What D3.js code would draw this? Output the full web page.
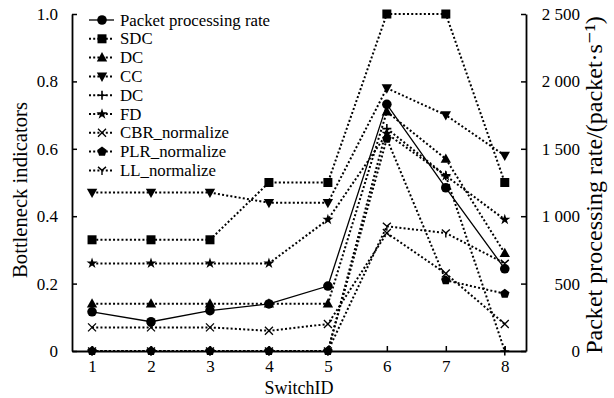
<!DOCTYPE html>
<html><head><meta charset="utf-8">
<script src="https://cdn.jsdelivr.net/npm/d3@7"></script>
<style>
body{margin:0;background:#fff;}
svg{display:block;font-family:"Liberation Serif","DejaVu Serif",serif;}
</style></head>
<body>
<svg id="chart" width="614" height="398"></svg>
<script>
// ---- data ----
const switchIDs = [1, 2, 3, 4, 5, 6, 7, 8];
const packetRate = [291, 217, 299, 349, 482, 1830, 1211, 610];
const sdc = [0.33, 0.33, 0.33, 0.50, 0.50, 1.00, 1.00, 0.50];
const dc = [0.14, 0.14, 0.14, 0.14, 0.14, 0.71, 0.57, 0.29];
const cc = [0.47, 0.47, 0.47, 0.44, 0.44, 0.78, 0.70, 0.58];
const dc2 = [0, 0, 0, 0, 0, 0.66, 0.52, 0];
const fd = [0.26, 0.26, 0.26, 0.26, 0.39, 0.645, 0.52, 0.39];
const cbr = [0.07, 0.07, 0.07, 0.06, 0.08, 0.35, 0.23, 0.08];
const plr = [0, 0, 0, 0, 0, 0.63, 0.21, 0.17];
const ll = [0, 0, 0, 0, 0, 0.37, 0.35, 0.26];
const leftTicks = [0, 0.2, 0.4, 0.6, 0.8, 1.0];
const rightTicks = [0, 500, 1000, 1500, 2000, 2500];
const leftTitle = "Bottleneck indicators";
const bottomTitle = "SwitchID";
const rightTitle = "Packet processing rate/(packet·s⁻¹)";

const seriesList = [
  {name: "Packet processing rate", values: packetRate, axis: "right", marker: "circle", solid: true},
  {name: "SDC", values: sdc, axis: "left", marker: "square"},
  {name: "DC", values: dc, axis: "left", marker: "triUp"},
  {name: "CC", values: cc, axis: "left", marker: "triDown"},
  {name: "DC", values: dc2, axis: "left", marker: "plus"},
  {name: "FD", values: fd, axis: "left", marker: "star"},
  {name: "CBR_normalize", values: cbr, axis: "left", marker: "x"},
  {name: "PLR_normalize", values: plr, axis: "left", marker: "pentagon"},
  {name: "LL_normalize", values: ll, axis: "left", marker: "wye"}
];

// ---- layout ----
const L = 72, R = 526, T = 14, B = 351;
const svg = d3.select("#chart");
const x = d3.scaleLinear().domain([0.66, 8.36]).range([L, R]);
const yL = d3.scaleLinear().domain([0, 1]).range([B, T]);
const yR = d3.scaleLinear().domain([0, 2500]).range([B, T]);

function fmtRight(d){
  const s = String(d);
  return s.length > 3 ? s.slice(0, s.length - 3) + " " + s.slice(-3) : s;
}
function fitSize(sel, target, base, maxSize){
  sel.attr("font-size", base);
  const w = sel.node().getComputedTextLength();
  let size = base * target / w;
  if (maxSize) size = Math.min(size, maxSize);
  sel.attr("font-size", size);
  return size;
}

const tickFs = 17;

// axes
const gL = svg.append("g").attr("transform", `translate(${L},0)`)
  .call(d3.axisLeft(yL).tickValues(leftTicks).tickSize(-5).tickSizeOuter(0).tickPadding(14)
    .tickFormat(d => d === 0 ? "0" : d3.format(".1f")(d)));
const gR = svg.append("g").attr("transform", `translate(${R},0)`)
  .call(d3.axisRight(yR).tickValues(rightTicks).tickSize(-5).tickSizeOuter(0).tickPadding(54)
    .tickFormat(fmtRight));
gR.selectAll(".tick text").attr("text-anchor", "end");
const gB = svg.append("g").attr("transform", `translate(0,${B})`)
  .call(d3.axisBottom(x).tickValues(switchIDs).tickSize(-5).tickSizeOuter(0).tickPadding(9)
    .tickFormat(d3.format("d")));
[gL, gR, gB].forEach(g => {
  g.attr("font-family", null).attr("font-size", null);
  g.selectAll("text").attr("font-size", tickFs).attr("fill", "#000");
  g.selectAll("line").attr("stroke", "#000").attr("stroke-width", 1.5);
  g.select(".domain").attr("stroke", "#000").attr("stroke-width", 1.8);
});

// axis titles
const tl = svg.append("text").attr("transform", `translate(27,190) rotate(-90)`)
  .attr("text-anchor", "middle").text(leftTitle);
fitSize(tl, 176, 18);
const tb = svg.append("text").attr("x", 299).attr("y", 394)
  .attr("text-anchor", "middle").attr("font-size", 18).text(bottomTitle);
const tr = svg.append("text").attr("transform", `translate(602,185) rotate(-90)`)
  .attr("text-anchor", "middle").text(rightTitle);
fitSize(tr, 338, 18);

// markers
function drawMarker(g, type, cx, cy){
  const k = "#000";
  if (type === "circle") g.append("circle").attr("cx", cx).attr("cy", cy).attr("r", 4.8).attr("fill", k);
  else if (type === "square") g.append("rect").attr("x", cx-4.5).attr("y", cy-4.5).attr("width", 9).attr("height", 9).attr("fill", k);
  else if (type === "triUp") g.append("path").attr("d", `M${cx},${cy-5.5}L${cx+5.2},${cy+3.8}L${cx-5.2},${cy+3.8}Z`).attr("fill", k);
  else if (type === "triDown") g.append("path").attr("d", `M${cx},${cy+5.5}L${cx+5.2},${cy-3.8}L${cx-5.2},${cy-3.8}Z`).attr("fill", k);
  else if (type === "plus") g.append("path").attr("d", `M${cx-4.5},${cy}H${cx+4.5}M${cx},${cy-4.5}V${cy+4.5}`).attr("stroke", k).attr("stroke-width", 1.6).attr("fill", "none");
  else if (type === "x") g.append("path").attr("d", `M${cx-4},${cy-4}L${cx+4},${cy+4}M${cx-4},${cy+4}L${cx+4},${cy-4}`).attr("stroke", k).attr("stroke-width", 1.3).attr("fill", "none");
  else if (type === "star") g.append("path").attr("d", d3.symbol(d3.symbolStar, 38)()).attr("transform", `translate(${cx},${cy})`).attr("fill", k);
  else if (type === "pentagon") {
    const pts = d3.range(5).map(i => { const a = -Math.PI/2 + i*2*Math.PI/5; return [cx + 5*Math.cos(a), cy + 5*Math.sin(a)]; });
    g.append("path").attr("d", "M" + pts.join("L") + "Z").attr("fill", k);
  }
  else if (type === "wye") g.append("path").attr("d", `M${cx},${cy+4.5}V${cy}M${cx},${cy}L${cx-4},${cy-3.5}M${cx},${cy}L${cx+4},${cy-3.5}`).attr("stroke", k).attr("stroke-width", 1.4).attr("fill", "none");
}

// series (draw in reverse so rate on top)
const plot = svg.append("g");
seriesList.slice().reverse().forEach(s => {
  const ys = s.axis === "right" ? yR : yL;
  const line = d3.line().x((d, i) => x(switchIDs[i])).y(d => ys(d));
  plot.append("path").datum(s.values).attr("d", line).attr("fill", "none")
    .attr("stroke", "#000").attr("stroke-width", s.solid ? 1.3 : 2)
    .attr("stroke-dasharray", s.solid ? null : "2,2.2");
  const mg = plot.append("g");
  s.values.forEach((v, i) => drawMarker(mg, s.marker, x(switchIDs[i]), ys(v)));
});

// legend
const lg = svg.append("g");
const legendFs = 16.8;
seriesList.forEach((s, i) => {
  const cy = 20 + i * 18.8;
  lg.append("path").attr("d", `M89,${cy}H114`).attr("stroke", "#000")
    .attr("stroke-width", s.solid ? 1.3 : 2).attr("stroke-dasharray", s.solid ? null : "2,2.2");
  drawMarker(lg, s.marker, 102, cy);
  lg.append("text").attr("x", 120).attr("y", cy + 5.5).attr("font-size", legendFs).text(s.name);
});
</script>
</body></html>
